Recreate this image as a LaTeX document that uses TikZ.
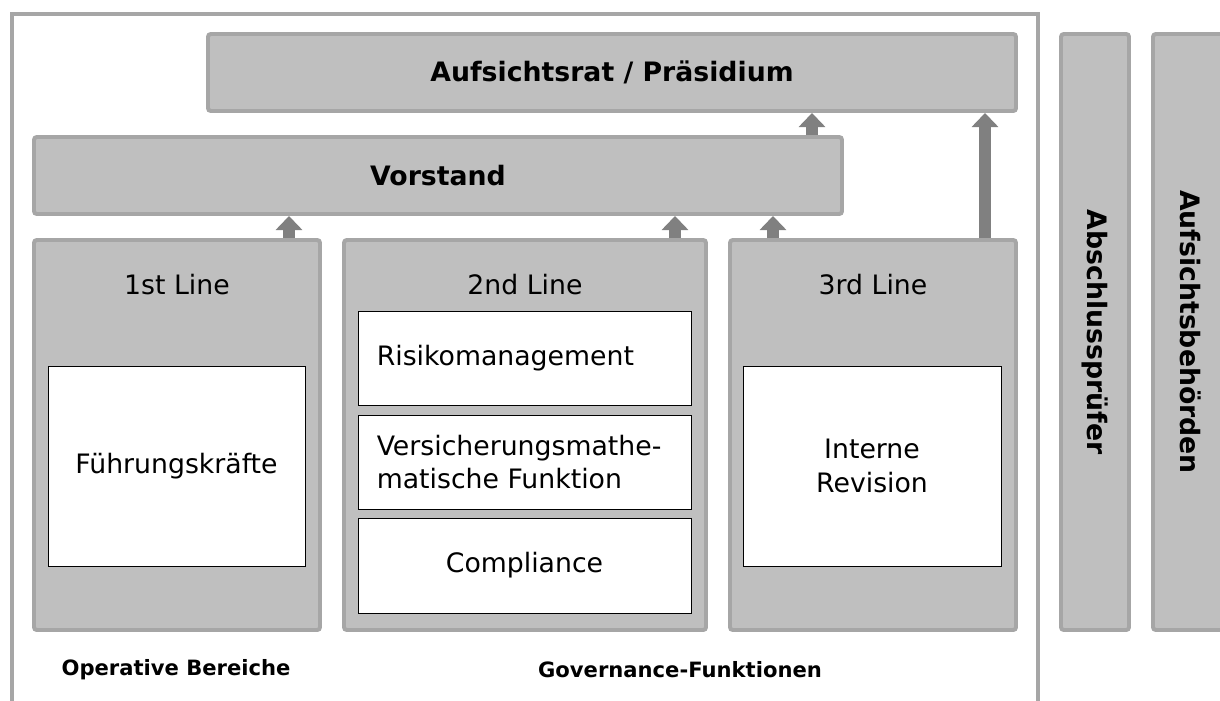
\documentclass[tikz,border=0pt]{standalone}
\usepackage{fontspec}
\setmainfont{DejaVu Sans}
\usetikzlibrary{arrows.meta,fit}
\definecolor{boxfill}{HTML}{BFBFBF}
\definecolor{boxline}{HTML}{A6A6A6}
\definecolor{arrowgray}{HTML}{808080}
\tikzset{
  graybox/.style={draw=boxline,fill=boxfill,line width=2.8pt,rounded corners=2pt,inner sep=0pt},
  whitebox/.style={draw=black,fill=white,line width=0.7pt,inner sep=0pt},
  uparrow/.style={draw=arrowgray,line width=8.5pt,-{Triangle[length=10pt,width=18.5pt]}},
  txt/.style={font=\fontsize{19}{24}\selectfont,align=center,inner sep=0pt},
  btxt/.style={font=\fontsize{19}{24}\selectfont\bfseries,inner sep=0pt},
  lbl/.style={font=\fontsize{15}{18}\selectfont\bfseries,inner sep=0pt}
}
\begin{document}
\begin{tikzpicture}[x=0.025cm,y=-0.025cm]
\useasboundingbox (0,0) rectangle (1220,700);
\clip (0,0) rectangle (1220,700);
\draw[boxline,line width=3.5pt] (12,14) rectangle (1038,720);
\node[graybox,fit={(208,34) (1016,111)}] (aufs) {};
\node[graybox,fit={(34,137) (842,214)}] (vor) {};
\node[graybox,fit={(34,240) (320,630)}] (l1) {};
\node[graybox,fit={(344,240) (706,630)}] (l2) {};
\node[graybox,fit={(730,240) (1016,630)}] (l3) {};
\node[graybox,fit={(1061,34) (1129,630)}] (abs) {};
\node[graybox,fit={(1153,34) (1228,630)}] (beh) {};
\node[whitebox,fit={(48,366) (305,566)}] (fk) {};
\node[whitebox,fit={(358,311) (691,405)}] (rm) {};
\node[whitebox,fit={(358,415) (691,509)}] (vm) {};
\node[whitebox,fit={(358,518) (691,613)}] (co) {};
\node[whitebox,fit={(743,366) (1001,566)}] (ir) {};
\node[btxt] (aufst) at (aufs) {Aufsichtsrat / Präsidium};
\node[btxt] (vort) at (vor) {Vorstand};
\node[txt] (l1t) at (177,285) {1st Line};
\node[txt] (l2t) at (525,285) {2nd Line};
\node[txt] (l3t) at (873,285) {3rd Line};
\node[txt] (fkt) at (fk) {Führungskräfte};
\node[txt,anchor=west] (rmt) at ([xshift=13.5pt]rm.west) {Risikomanagement};
\node[txt,anchor=west,align=left] (vmt) at ([xshift=13.5pt]vm.west) {Versicherungsmathe-\\matische Funktion};
\node[txt] (cot) at (co) {Compliance};
\node[txt] (irt) at (ir) {Interne\\Revision};
\node[btxt,rotate=-90] (abst) at (abs) {Abschlussprüfer};
\node[btxt,rotate=-90] (beht) at (beh) {Aufsichtsbehörden};
\node[lbl] (op) at (176,670) {Operative Bereiche};
\node[lbl] (gov) at (680,670) {Governance-Funktionen};
\draw[uparrow] (l1.north -| 289,0) -- (vor.south -| 289,0);
\draw[uparrow] (l2.north -| 675,0) -- (vor.south -| 675,0);
\draw[uparrow] (l3.north -| 773,0) -- (vor.south -| 773,0);
\draw[uparrow] (vor.north -| 812,0) -- (aufs.south -| 812,0);
\draw[uparrow] (l3.north -| 985,0) -- (aufs.south -| 985,0);
\end{tikzpicture}
\end{document}
